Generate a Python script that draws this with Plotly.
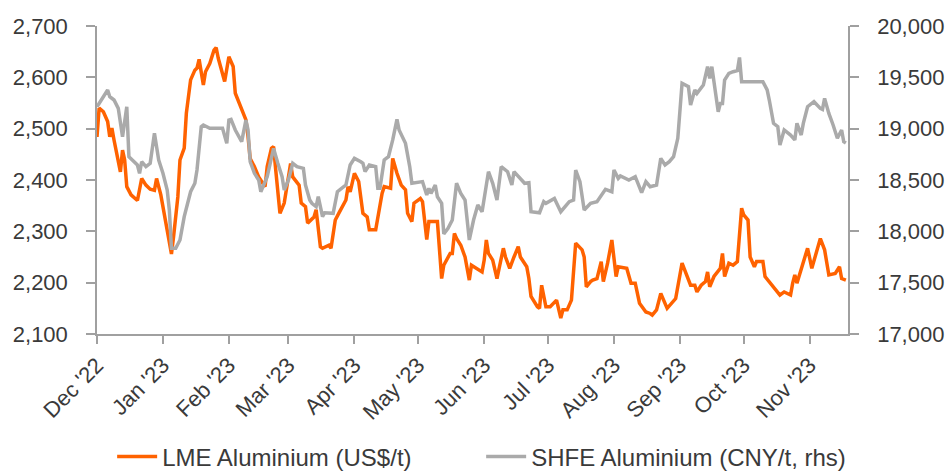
import pandas as pd
import plotly.graph_objects as go

START = pd.Timestamp("2022-12-01")

# LME Aluminium (US$/t) - days since 1 Dec 2022
lme_day = [0,1,3,5,6,7,8,11,12,13,14,16,19,21,23,25,27,28,30,32,34,35,36,38,39,41,42,44,46,47,48,50,51,53,55,56,57,60,62,64,65,67,69,70,71,72,74,76,79,80,82,83,84,86,88,91,92,95,96,98,99,102,103,105,106,109,110,112,114,117,118,119,121,123,125,127,128,131,134,135,138,139,141,143,145,146,148,149,152,153,155,156,160,162,163,166,167,168,169,171,173,175,176,178,181,182,183,184,186,188,191,192,194,196,198,199,202,203,204,207,208,209,211,213,216,218,219,221,223,225,228,229,230,232,233,235,237,238,240,242,244,245,249,251,253,255,258,260,261,263,265,268,271,272,275,277,279,281,282,284,286,287,288,290,293,294,295,297,299,301,303,304,306,307,309,310,313,314,316,319,321,323,326,327,328,329,332,334,336,338,340,342,344,347,349,350,352]
lme_val = [2484,2540,2533,2514,2484,2501,2478,2416,2458,2439,2387,2371,2360,2403,2390,2382,2380,2403,2371,2322,2283,2256,2290,2367,2439,2462,2530,2595,2614,2618,2635,2585,2611,2627,2653,2658,2637,2592,2640,2621,2569,2549,2527,2517,2484,2442,2426,2406,2387,2426,2462,2465,2420,2335,2355,2432,2406,2390,2355,2348,2316,2328,2342,2270,2267,2273,2267,2322,2338,2361,2387,2377,2413,2397,2335,2328,2303,2303,2374,2387,2384,2442,2413,2390,2381,2335,2319,2355,2364,2358,2284,2319,2319,2208,2234,2257,2257,2296,2286,2273,2250,2205,2234,2228,2221,2244,2283,2257,2244,2208,2267,2250,2228,2250,2270,2250,2231,2208,2173,2153,2150,2195,2153,2153,2166,2131,2147,2147,2166,2277,2264,2250,2192,2202,2205,2208,2241,2202,2238,2283,2212,2231,2228,2199,2199,2160,2143,2140,2137,2147,2179,2150,2166,2169,2238,2218,2195,2195,2182,2195,2202,2221,2192,2212,2228,2257,2212,2238,2234,2241,2345,2332,2322,2250,2231,2241,2241,2212,2202,2186,2176,2182,2176,2199,2215,2199,2238,2267,2228,2260,2286,2264,2215,2218,2231,2208,2205]

# SHFE Aluminium (CNY/t, rhs) - days since 1 Dec 2022
shfe_day = [0,2,5,6,8,10,12,14,15,19,20,21,23,25,27,29,31,33,34,35,37,39,41,44,46,47,49,50,53,59,61,62,63,65,68,70,71,72,74,76,77,80,82,83,85,87,88,90,92,94,97,98,100,101,103,104,106,107,111,113,116,117,119,121,124,125,126,128,131,132,133,135,137,139,141,142,145,147,148,153,155,156,157,159,160,162,163,165,167,169,171,173,175,177,179,181,184,186,188,190,193,195,196,199,201,203,204,208,210,211,215,218,222,224,225,227,229,232,235,239,242,243,245,246,250,253,256,258,260,263,265,267,269,271,273,275,277,278,279,281,282,284,285,287,288,289,290,292,293,294,295,297,299,301,302,303,313,315,316,318,320,321,323,326,328,329,331,332,334,337,340,341,342,344,346,348,350,351,352]
shfe_val = [19214,19279,19377,19311,19279,19198,18922,19214,18727,18646,18565,18678,18630,18663,18955,18695,18565,18403,18208,17835,17835,17916,18143,18386,18468,18597,19019,19036,19003,19003,18857,19084,19091,18987,18873,19084,18987,18678,18565,18500,18386,18532,18743,18808,18663,18532,18403,18500,18663,18630,18614,18451,18305,18273,18240,18337,18143,18181,18175,18386,18435,18451,18646,18711,18678,18663,18581,18646,18630,18419,18419,18695,18727,18890,19091,18987,18857,18630,18468,18484,18354,18419,18370,18451,18337,18273,17974,18029,18110,18468,18370,18305,17916,18110,18256,18191,18581,18468,18305,18630,18581,18451,18581,18516,18468,18474,18191,18181,18289,18273,18321,18191,18289,18305,18597,18484,18208,18273,18289,18409,18386,18597,18516,18539,18500,18532,18377,18484,18435,18451,18711,18646,18678,18727,18906,19442,19425,19409,19230,19377,19344,19393,19425,19604,19490,19604,19442,19165,19246,19246,19474,19539,19555,19565,19694,19458,19458,19377,19279,19052,19019,18841,18987,18938,18890,19052,18938,19052,19214,19263,19198,19188,19295,19149,19036,18906,18987,18873,18860]

lme_name = "LME Aluminium (US$/t)"
shfe_name = "SHFE Aluminium (CNY/t, rhs)"
month_ticks = pd.date_range("2022-12-01", "2023-11-01", freq="MS")
x_end_day = 353

lme_dates = START + pd.to_timedelta(lme_day, unit="D")
shfe_dates = START + pd.to_timedelta(shfe_day, unit="D")

FONT = "Liberation Sans, Arial, sans-serif"
TXT = "#3a3a3a"
AX = "#a0a0a0"

fig = go.Figure()
fig.add_trace(go.Scatter(x=lme_dates, y=lme_val, name=lme_name, mode="lines",
                         line=dict(color="#ff6200", width=3.5), yaxis="y"))
fig.add_trace(go.Scatter(x=shfe_dates, y=shfe_val, name=shfe_name, mode="lines",
                         line=dict(color="#aaaaaa", width=3.5), yaxis="y2"))

fig.update_layout(
    width=949, height=472,
    margin=dict(l=97, r=101, t=26, b=138),
    paper_bgcolor="white", plot_bgcolor="white",
    font=dict(family=FONT, color=TXT, size=22),
    showlegend=True,
    legend=dict(orientation="h", xref="container", yref="container",
                x=0.507, y=0.032, xanchor="center", yanchor="middle",
                font=dict(size=24, color=TXT), itemwidth=40,
                entrywidth=314, traceorder="normal"),
    xaxis=dict(
        type="date",
        range=[START, START + pd.Timedelta(days=x_end_day)],
        tickvals=month_ticks, tickformat="%b '%y", tickangle=-45,
        ticks="outside", ticklen=8, tickcolor=AX, tickwidth=1.5,
        showline=True, linecolor=AX, linewidth=1.5,
        showgrid=False, zeroline=False, automargin=False,
        tickfont=dict(size=22, color=TXT),
    ),
    yaxis=dict(
        range=[2100, 2700], dtick=100, tickformat=",",
        ticks="outside", ticklen=9, tickcolor=AX, tickwidth=1.5,
        showline=True, linecolor=AX, linewidth=1.5,
        showgrid=False, zeroline=False, automargin=False,
        ticklabelstandoff=14,
        tickfont=dict(size=22, color=TXT),
    ),
    yaxis2=dict(
        range=[17000, 20000], dtick=500, tickformat=",",
        overlaying="y", side="right",
        ticks="outside", ticklen=9, tickcolor=AX, tickwidth=1.5,
        showline=True, linecolor=AX, linewidth=1.5,
        showgrid=False, zeroline=False, automargin=False,
        ticklabelstandoff=14,
        tickfont=dict(size=22, color=TXT),
    ),
)

fig.write_html("out.html", config={"displayModeBar": False},
               post_script="document.body.style.margin='0';")
